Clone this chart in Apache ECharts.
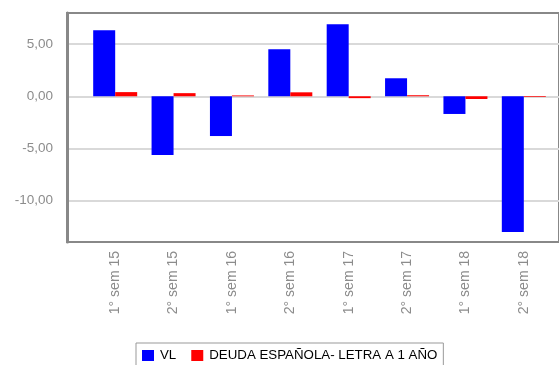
<!DOCTYPE html>
<html>
<head>
<meta charset="utf-8">
<script src="https://cdn.jsdelivr.net/npm/echarts@6/dist/echarts.min.js"></script>
<style>
  html, body { margin: 0; padding: 0; background: #fff; }
  #chart { width: 559px; height: 365px; }
</style>
</head>
<body>
<div id="chart"></div>
<script>
// Semester returns: fund (VL) vs 1-year Spanish treasury bill
const categories = ['1° sem 15', '2° sem 15', '1° sem 16', '2° sem 16', '1° sem 17', '2° sem 17', '1° sem 18', '2° sem 18'];
const vlValues = [6.35, -5.64, -3.82, 4.52, 6.92, 1.73, -1.70, -13.05];
const letraValues = [0.40, 0.30, 0.08, 0.38, -0.18, 0.10, -0.26, -0.07];
const yTicks = [-10, -5, 0, 5];
const yMin = -14;
const yMax = 8;

const chart = echarts.init(document.getElementById('chart'), null, { renderer: 'canvas' });
const font = 'Liberation Sans, Arial, sans-serif';
const fmt = v => v.toFixed(2).replace('.', ',');

chart.setOption({
  animation: false,
  textStyle: { fontFamily: font },
  legend: {
    left: 136,
    top: 343,
    padding: [6, 6],
    itemWidth: 12,
    itemHeight: 11,
    itemGap: 15,
    borderColor: '#999',
    borderWidth: 1,
    icon: 'rect',
    textStyle: { color: '#000', fontSize: 13.3, fontFamily: font, padding: [0, 0, 0, 1] },
    data: ['VL', 'DEUDA ESPAÑOLA- LETRA A 1 AÑO']
  },
  grid: [
    // framed plot area with value gridlines
    { left: 67, top: 13, width: 505, height: 229, show: true, borderColor: '#888', borderWidth: 2, backgroundColor: 'transparent' },
    // bar area
    { left: 86, top: 13, width: 467, height: 229 }
  ],
  xAxis: [
    { type: 'value', gridIndex: 0, show: false, min: 0, max: 1 },
    {
      type: 'category', gridIndex: 1, data: categories,
      axisLine: { show: false }, axisTick: { show: false },
      axisLabel: { rotate: 90, color: '#8c8c8c', fontSize: 14, margin: 9, fontFamily: font }
    }
  ],
  yAxis: [
    {
      type: 'value', gridIndex: 0, min: yMin, max: yMax,
      axisLine: { show: true, lineStyle: { color: '#888', width: 3 } },
      axisTick: { show: false, customValues: yTicks },
      axisLabel: { customValues: yTicks, formatter: fmt, color: '#8c8c8c', fontSize: 13.5, margin: 14, fontFamily: font },
      splitLine: { show: true, lineStyle: { color: '#d9d9d9', width: 2 } }
    },
    { type: 'value', gridIndex: 1, min: yMin, max: yMax, show: false, splitLine: { show: false } }
  ],
  series: [
    {
      name: 'VL', type: 'bar', xAxisIndex: 1, yAxisIndex: 1,
      data: vlValues, barWidth: 22, barGap: '0%',
      itemStyle: { color: '#0000ff' }
    },
    {
      name: 'DEUDA ESPAÑOLA- LETRA A 1 AÑO', type: 'bar', xAxisIndex: 1, yAxisIndex: 1,
      data: letraValues, barWidth: 22, barGap: '0%',
      itemStyle: { color: '#ff0000' }
    }
  ]
});
</script>
</body>
</html>
